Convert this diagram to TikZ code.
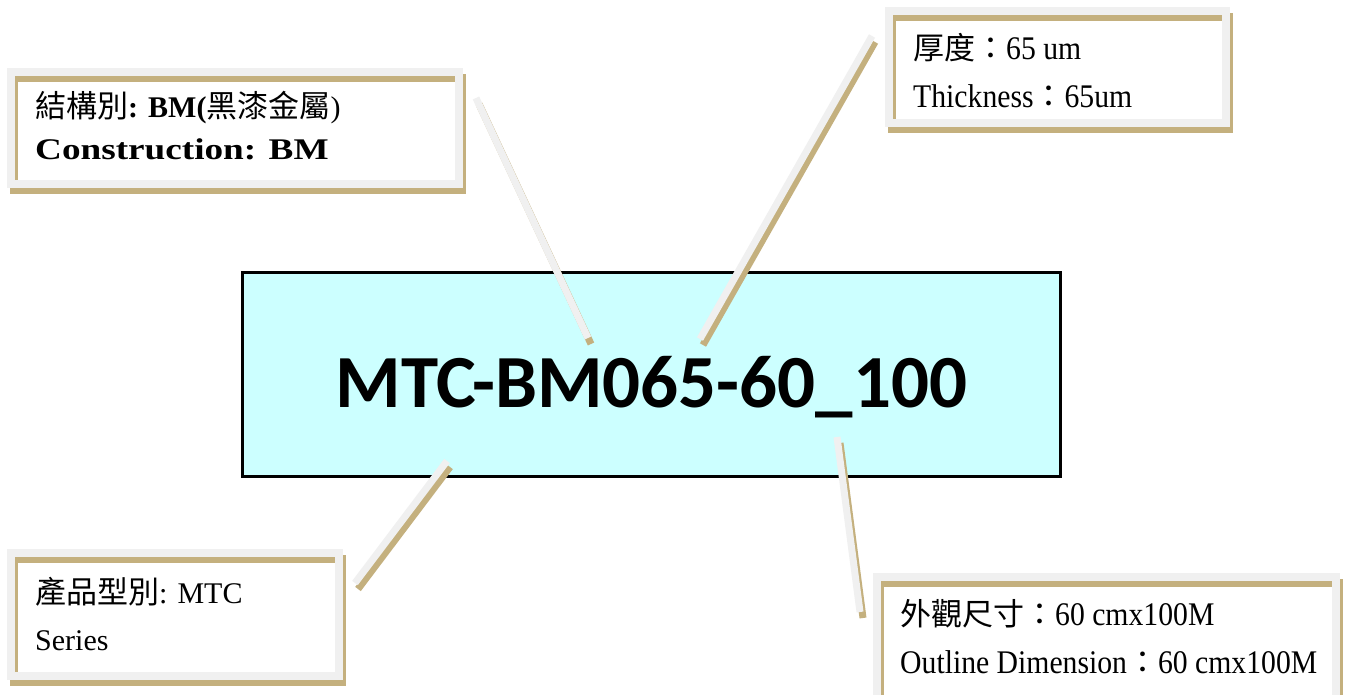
\documentclass[tikz,border=0pt]{standalone}
\usepackage{fontspec}
\setmainfont{Liberation Serif}
\newfontfamily\cjkfont{Noto Sans CJK TC}
\newfontfamily\calib{Carlito}
\newcommand\cj[1]{{\cjkfont\fontsize{31}{36}\selectfont #1}}
\newcommand\nl[1]{\scalebox{0.9}[1]{\fontsize{33}{36}\selectfont #1}}
\definecolor{framegray}{HTML}{F0F0F0}
\definecolor{frametan}{HTML}{C4B07E}
\definecolor{maincyan}{HTML}{CCFFFF}
\tikzset{
  grayframe/.style={draw=framegray, line width=8pt, inner sep=0pt, outer sep=0pt},
  tanframe/.style={draw=frametan, line width=8pt, inner sep=0pt, outer sep=0pt},
  grayline/.style={draw=framegray, line width=7pt},
  tanline/.style={draw=frametan, line width=7pt},
  mainbox/.style={draw=black, line width=3pt, fill=maincyan, inner sep=0pt, minimum width=818pt, minimum height=204pt},
  lbl/.style={anchor=base west, inner sep=0pt, font=\fontsize{30}{36}\selectfont},
}
\begin{document}
\begin{tikzpicture}[x=1pt,y=-1pt]
\fill[white] (0,0) rectangle (1346,695);
\useasboundingbox (0,0) rectangle (1346,695);
% main box
\node[mainbox] (main) at (651,374) {};
\node[anchor=base, inner sep=0pt, font=\calib\bfseries\fontsize{75}{80}\selectfont] (maintext) at (651.5,407) {MTC-BM065-60\_100};
% connector end points
\coordinate (c1a) at (476,98);  \coordinate (c1b) at (588,338);
\coordinate (c2a) at (872,36);  \coordinate (c2b) at (700,339);
\coordinate (c3a) at (447,461); \coordinate (c3b) at (355,583);
\coordinate (c4a) at (837,437); \coordinate (c4b) at (860,612);
\foreach \a/\b in {c1a/c1b,c2a/c2b,c3a/c3b,c4a/c4b}{
  \draw[tanline] ([shift={(3,6)}]\a) -- ([shift={(3,6)}]\b);
  \draw[grayline] (\a) -- (\b);
}
% callout frames
\node[tanframe, minimum width=448pt, minimum height=112pt] (b1s) at (238,134) {};
\node[grayframe, minimum width=448pt, minimum height=112pt] (b1) at (235,128) {};
\node[tanframe, minimum width=337pt, minimum height=112pt] (b2s) at (1060.5,73) {};
\node[grayframe, minimum width=337pt, minimum height=112pt] (b2) at (1057.5,67) {};
\node[tanframe, minimum width=328pt, minimum height=123pt] (b3s) at (178,620.5) {};
\node[grayframe, minimum width=328pt, minimum height=123pt] (b3) at (175,614.5) {};
\node[tanframe, minimum width=459pt, minimum height=133pt] (b4s) at (1109.5,649.5) {};
\node[grayframe, minimum width=459pt, minimum height=133pt] (b4) at (1106.5,643.5) {};
% texts
\node[lbl] (t1a) at (35,118) {\cj{結構別}\textbf{: BM(}\cj{黑漆金屬})};
\node[lbl] (t1b) at (35,160) {\scalebox{1.24}[1]{\bfseries Construction: BM}};
\node[lbl] (t2a) at (913,60) {\cj{厚度：}\nl{65 um}};
\node[lbl] (t2b) at (913,108) {\nl{Thickness}\cj{：}\nl{65um}};
\node[lbl] (t3a) at (35,603) {\cj{產品型別}: MTC};
\node[lbl] (t3b) at (35,650) {Series};
\node[lbl] (t4a) at (900,625) {\cj{外觀尺寸：}\nl{60 cmx100M}};
\node[lbl] (t4b) at (900,673) {\nl{Outline Dimension}\cj{：}\nl{60 cmx100M}};
\end{tikzpicture}
\end{document}
